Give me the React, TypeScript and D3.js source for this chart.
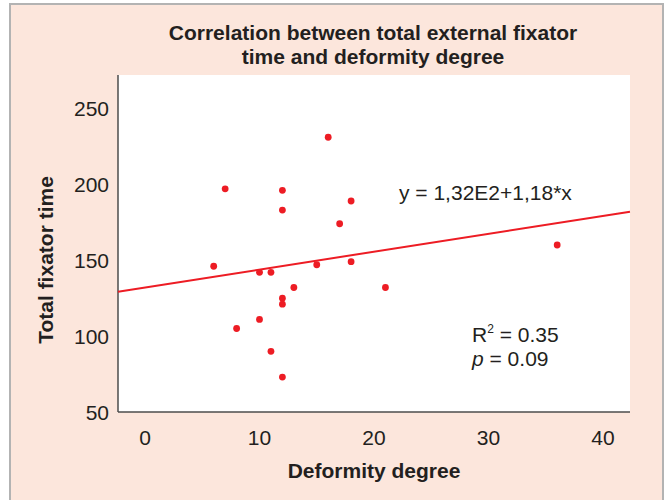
import React from "react";
import * as d3 from "d3";

// deformity degree vs total fixator time
const degree = [7, 12, 16, 12, 18, 17, 6, 10, 11, 15, 18, 13, 12, 12, 21, 36, 10, 8, 11, 12];
const fixTime = [197, 196, 231, 183, 189, 174, 146, 142, 142, 147, 149, 132, 125, 121, 132, 160, 111, 105, 90, 73];

const xTicks = [0, 10, 20, 30, 40];
const yTicks = [50, 100, 150, 200, 250];

// fitted line y = a + b*x
const intercept = 132;
const slope = 1.18;

const W = 665;
const H = 500;
const font = "'Liberation Sans', Arial, Helvetica, sans-serif";
const textCol = "#231f20";
const red = "#ed1c24";

export default function App() {
  const x = d3.scaleLinear().domain([-2.36, 42.36]).range([118, 630]);
  const y = d3.scaleLinear().domain([50, 272]).range([412, 75]);

  const [x0, x1] = x.domain();
  const fit = d3
    .line<number>()
    .x((d) => x(d))
    .y((d) => y(intercept + slope * d));

  return (
    <svg
      width={W}
      height={H}
      style={{ position: "absolute", left: 0, top: 0, background: "#fff" }}
      fontFamily={font}
    >
      <rect x={10} y={4} width={653} height={H} fill="#fce6dc" stroke="#b3b3b3" strokeWidth={2} />

      <text x={373} y={40} textAnchor="middle" fontSize={21} fontWeight="bold" fill={textCol}>
        Correlation between total external fixator
      </text>
      <text x={373} y={64} textAnchor="middle" fontSize={21} fontWeight="bold" fill={textCol}>
        time and deformity degree
      </text>

      <rect x={x(x0)} y={y(272)} width={x(x1) - x(x0)} height={y(50) - y(272)} fill="#fff" />

      <line x1={x(x0)} x2={x(x0)} y1={y(272)} y2={y(50)} stroke="#4d4d4d" strokeWidth={1.5} />
      <line x1={x(x0)} x2={x(x1)} y1={y(50)} y2={y(50)} stroke="#4d4d4d" strokeWidth={1.5} />

      {yTicks.map((t) => (
        <text key={t} x={109} y={y(t)} dy="0.36em" textAnchor="end" fontSize={21} fill={textCol}>
          {t}
        </text>
      ))}
      {xTicks.map((t) => (
        <text key={t} x={x(t)} y={445} textAnchor="middle" fontSize={21} fill={textCol}>
          {t}
        </text>
      ))}

      <text x={374} y={478} textAnchor="middle" fontSize={21} fontWeight="bold" fill={textCol}>
        Deformity degree
      </text>
      <text
        transform={`translate(53,260) rotate(-90)`}
        textAnchor="middle"
        fontSize={21}
        fontWeight="bold"
        fill={textCol}
      >
        Total fixator time
      </text>

      <path d={fit([x0, x1]) || ""} fill="none" stroke={red} strokeWidth={2} />

      {degree.map((d, i) => (
        <circle key={i} cx={x(d)} cy={y(fixTime[i])} r={3.4} fill={red} />
      ))}

      <text x={399} y={200} fontSize={21} fill={textCol}>
        y = 1,32E2+1,18*x
      </text>
      <text x={472} y={342} fontSize={21} fill={textCol}>
        R<tspan fontSize={12} dy={-9}>2</tspan>
        <tspan dy={9}> = 0.35</tspan>
      </text>
      <text x={472} y={366} fontSize={21} fill={textCol}>
        <tspan fontStyle="italic">p</tspan> = 0.09
      </text>
    </svg>
  );
}
